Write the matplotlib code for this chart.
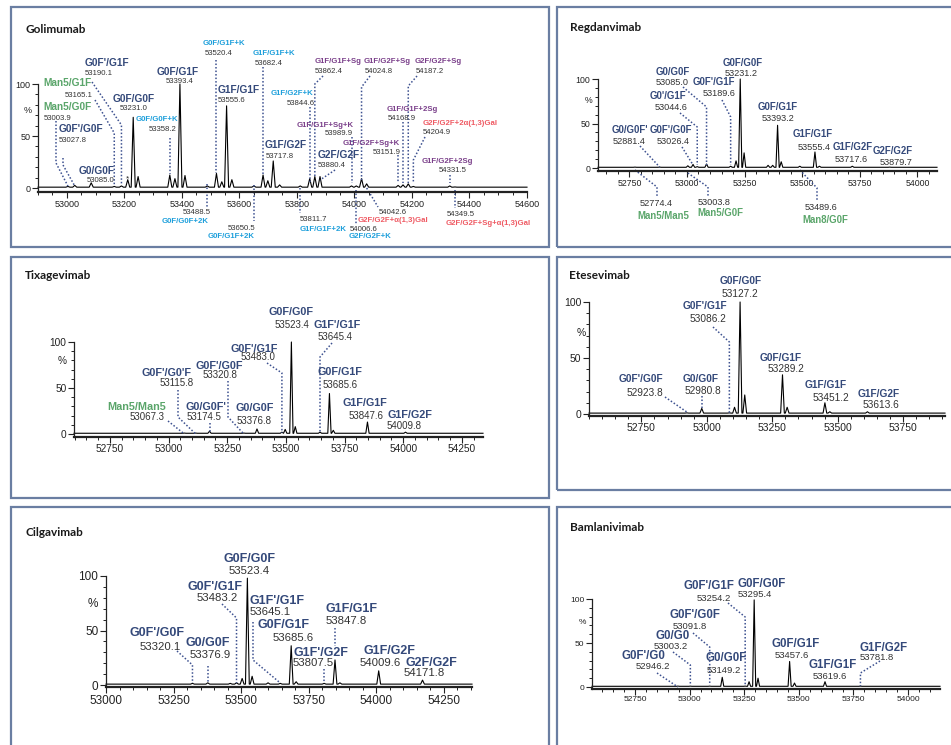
import matplotlib
matplotlib.use("Agg")
import matplotlib.pyplot as plt
from matplotlib.patches import Rectangle
from matplotlib.ticker import MultipleLocator

plt.rcParams["font.family"] = ["Liberation Sans", "DejaVu Sans"]

# ---------------- Golimumab ----------------
goli_peak_mass = [53003.9, 53027.8, 53085.0, 53165.1, 53190.1, 53212.0, 53231.0, 53248.0,
                  53358.2, 53376.0, 53393.4, 53411.0, 53488.5, 53520.4, 53539.0, 53555.6,
                  53574.0, 53650.5, 53682.4, 53699.0, 53717.8, 53740.0, 53811.7, 53844.6,
                  53862.4, 53880.4, 53989.9, 54006.6, 54024.8, 54042.6, 54151.9, 54168.9,
                  54187.2, 54204.9, 54331.5, 54349.5]
goli_peak_int = [1.5, 2.5, 5, 1.5, 2, 8, 68, 11,
                 12.5, 9, 100, 12, 2, 14, 6, 79,
                 8, 2, 12.5, 7, 26, 3, 2, 9,
                 11, 11, 2, 2, 9, 4, 2.5, 3,
                 4, 1.5, 2, 1]
goli_names = ["G0F'/G1F", "Man5/G1F", "Man5/G0F", "G0F'/G0F", "G0/G0F", "G0F/G0F",
              "G0F/G0F+K", "G0F/G1F", "G0F/G1F+K", "G1F/G1F", "G1F/G1F+K", "G1F/G2F+K",
              "G1F/G2F", "G1F/G1F+Sg", "G1F/G2F+Sg", "G2F/G2F+Sg", "G1F/G1F+Sg+K", "G2F/G2F",
              "G1F/G2F+Sg+K", "G1F/G1F+2Sg", "G2F/G2F+2α(1,3)Gal", "G1F/G2F+2Sg",
              "G0F/G0F+2K", "G0F/G1F+2K", "G1F/G1F+2K", "G2F/G2F+K", "G2F/G2F+α(1,3)Gal",
              "G2F/G2F+Sg+α(1,3)Gal"]
goli_masses = ["53190.1", "53165.1", "53003.9", "53027.8", "53085.0", "53231.0",
               "53358.2", "53393.4", "53520.4", "53555.6", "53682.4", "53844.6",
               "53717.8", "53862.4", "54024.8", "54187.2", "53989.9", "53880.4",
               "53151.9", "54168.9", "54204.9", "54331.5",
               "53488.5", "53650.5", "53811.7", "54006.6", "54042.6", "54349.5"]

# ---------------- Regdanvimab ----------------
regd_peak_mass = [52774.4, 52881.4, 53003.8, 53026.4, 53044.6, 53085.0, 53189.6, 53213.0,
                  53231.2, 53248.0, 53352.0, 53372.0, 53393.2, 53409.0, 53489.6, 53555.4,
                  53575.0, 53717.6, 53879.7]
regd_peak_int = [1, 1, 2.5, 4, 1.5, 4.5, 2, 8, 100, 17, 3, 3, 48, 7, 2, 18, 2, 2, 1]
regd_names = ["G0F/G0F", "G0/G0F", "G0F'/G1F", "G0'/G1F", "G0/G0F'", "G0F'/G0F",
              "G0F/G1F", "G1F/G1F", "G1F/G2F", "G2F/G2F", "Man5/Man5", "Man5/G0F", "Man8/G0F"]
regd_masses = ["53231.2", "53085.0", "53189.6", "53044.6", "52881.4", "53026.4",
               "53393.2", "53555.4", "53717.6", "53879.7", "52774.4", "53003.8", "53489.6"]

# ---------------- Tixagevimab ----------------
tixa_peak_mass = [53067.3, 53115.8, 53174.5, 53320.8, 53376.8, 53483.0, 53497.0, 53523.4,
                  53540.0, 53645.4, 53685.6, 53702.0, 53847.6, 54009.8]
tixa_peak_int = [1, 1, 3, 1, 5.5, 2, 5, 100, 8, 2, 44, 4, 13, 2]
tixa_names = ["G0F/G0F", "G1F'/G1F", "G0F/G1F", "G1F/G1F", "G1F/G2F", "G0F'/G1F",
              "G0F'/G0F", "G0F'/G0'F", "Man5/Man5", "G0/G0F'", "G0/G0F"]
tixa_masses = ["53523.4", "53645.4", "53685.6", "53847.6", "54009.8", "53483.0",
               "53320.8", "53115.8", "53067.3", "53174.5", "53376.8"]

# ---------------- Etesevimab ----------------
etes_peak_mass = [52923.8, 52980.8, 53086.2, 53106.0, 53127.2, 53145.0, 53289.2, 53307.0,
                  53451.2, 53470.0, 53613.6]
etes_peak_int = [1, 5, 1, 6, 100, 17, 35, 6, 10, 2, 2]
etes_names = ["G0F/G0F", "G0F'/G1F", "G0F/G1F", "G1F/G1F", "G1F/G2F", "G0F'/G0F", "G0/G0F"]
etes_masses = ["53127.2", "53086.2", "53289.2", "53451.2", "53613.6", "52923.8", "52980.8"]

# ---------------- Cilgavimab ----------------
cilg_peak_mass = [53320.1, 53376.9, 53460.0, 53483.2, 53504.0, 53523.4, 53541.0, 53600.0,
                  53645.1, 53685.6, 53704.0, 53807.5, 53847.8, 53866.0, 54009.6, 54171.8]
cilg_peak_int = [1.5, 2, 1.5, 2, 6, 98, 8, 2, 1.5, 36, 3, 1.5, 23, 2, 13, 4.5]
cilg_names = ["G0F/G0F", "G0F'/G1F", "G1F'/G1F", "G0F/G1F", "G1F'/G2F", "G1F/G1F",
              "G1F/G2F", "G2F/G2F", "G0F'/G0F", "G0/G0F"]
cilg_masses = ["53523.4", "53483.2", "53645.1", "53685.6", "53807.5", "53847.8",
               "54009.6", "54171.8", "53320.1", "53376.9"]

# ---------------- Bamlanivimab ----------------
baml_peak_mass = [52946.2, 53003.2, 53091.8, 53149.2, 53254.2, 53272.0, 53295.4, 53313.0,
                  53457.6, 53480.0, 53619.6, 53781.8]
baml_peak_int = [1, 1, 1, 11, 1, 6, 99, 10, 29, 4.5, 6, 1]
baml_names = ["G0F/G0F", "G0F'/G1F", "G0F'/G0F", "G0/G0", "G0F'/G0", "G0/G0F",
              "G0F/G1F", "G1F/G1F", "G1F/G2F"]
baml_masses = ["53295.4", "53254.2", "53091.8", "53003.2", "52946.2", "53149.2",
               "53457.6", "53619.6", "53781.8"]

# ---------------- styling ----------------
W, H = 951, 745
COLORS = {"n": "#34497a", "g": "#5aa56a", "c": "#1d9fdb", "p": "#7a3f8a", "r": "#ef5a63"}
MASS_C = "#333333"
DOT_C = "#3d5190"
BOX_C = "#6a7ea2"
BASE = 0.8   # baseline level of the trace
HW = 7.0     # half width of a peak, Da

fig = plt.figure(figsize=(W / 100, H / 100), dpi=100)
fig.patch.set_facecolor("white")


def px_to_data(ax, x, y):
    return ax.transData.inverted().transform((x, H - y))


def put_text(ax, x, y, s, size, color, bold=False, ha="left"):
    # y is the centre of the capitals in pixels from the top edge
    dx, dy = px_to_data(ax, x, y + 0.36 * size * 100 / 72)
    ax.text(dx, dy, s, fontsize=size, color=color, fontweight="bold" if bold else "normal",
            ha=ha, va="baseline", clip_on=False)


def put_leader(ax, mass, pts):
    xs, ys = [], []
    for x, y in pts:
        dx, dy = px_to_data(ax, 0 if x is None else x, y)
        xs.append(mass if x is None else dx)
        ys.append(dy)
    ax.plot(xs, ys, color=DOT_C, lw=1.1, ls=(0, (1, 1.3)), clip_on=False)


def draw_panel(p, peak_mass, peak_int, names, masses):
    x0, y0, x1, y1 = p["box"]
    fig.add_artist(Rectangle((x0 / W, 1 - y1 / H), (x1 - x0) / W, (y1 - y0) / H,
                             transform=fig.transFigure, fill=False, ec=BOX_C, lw=1.6))
    tx, ty = p["title_xy"]
    fig.text(tx / W, 1 - (ty + 4) / H, p["title"], family="Lato", weight="bold",
             size=8.5, color="#1a1a1a", va="baseline")

    left, right, y100, yzero, ymin = p["geom"]
    bottom = yzero + (-ymin) * (yzero - y100) / 100
    ax = fig.add_axes([left / W, 1 - bottom / H, (right - left) / W, (bottom - y100) / H])
    ax.set_xlim(*p["xlim"])
    ax.set_ylim(ymin, 100)
    ax.set_facecolor("none")

    xs, ys = [p["xlim"][0]], [BASE]
    for m, h in sorted(zip(peak_mass, peak_int)):
        xs += [m - HW, m, m + HW]
        ys += [BASE, h, BASE]
    xs.append(p["xlim"][1])
    ys.append(BASE)
    ax.plot(xs, ys, color="black", lw=0.8, clip_on=False)

    for s in ("top", "right"):
        ax.spines[s].set_visible(False)
    ax.spines["left"].set_linewidth(0.9)
    ax.spines["bottom"].set_linewidth(1.6)
    for s in ("left", "bottom"):
        ax.spines[s].set_color("#222222")
    ax.set_yticks([0, 50, 100])
    ax.yaxis.set_minor_locator(MultipleLocator(10))
    ax.xaxis.set_major_locator(MultipleLocator(p["major"]))
    ax.xaxis.set_minor_locator(MultipleLocator(50))
    ax.tick_params(which="major", length=4, width=0.8, labelsize=p["fs_tick"], pad=1.5,
                   colors="#222222")
    ax.tick_params(which="minor", length=2, width=0.7, colors="#222222")
    put_text(ax, p["pct_xy"][0], p["pct_xy"][1], "%", p["fs_tick"], "#222222", ha="center")

    for name, mass, (ckey, nxy, mxy, leader) in zip(names, masses, p["labels"]):
        size = p["fs_small"] if ckey in ("c", "p", "r") else p["fs_name"]
        msize = p["fs_mass"]
        put_text(ax, nxy[0], nxy[1], name, size, COLORS[ckey], bold=True)
        put_text(ax, mxy[0], mxy[1], mass, msize, MASS_C)
        if leader:
            put_leader(ax, float(mass), leader)
    return ax


N = None
golimumab = dict(
    title="Golimumab", title_xy=(25, 29), box=(11, 7, 549, 247),
    geom=(38, 527, 84, 188, -4), xlim=(52900, 54600), major=200, fs_tick=6.5,
    pct_xy=(28, 110), fs_name=7.3, fs_small=5.6, fs_mass=5.6,
    labels=[
        ("n", (85, 62), (85, 72), [(92, 82), (N, 125), (N, 185)]),
        ("g", (43, 82), (65, 94), [(95, 100), (N, 133), (N, 186)]),
        ("g", (43, 106), (44, 117), [(56, 121), (56, 163), (N, 186)]),
        ("n", (59, 128), (59, 139), [(63, 158), (63, 165), (N, 186)]),
        ("n", (79, 170), (87, 179), None),
        ("n", (113, 98), (120, 107), None),
        ("c", (136, 118), (149, 128), [(N, 138), (N, 174)]),
        ("n", (157, 71), (166, 80), None),
        ("c", (203, 42), (205, 52), [(N, 60), (N, 173)]),
        ("n", (218, 89), (218, 99), None),
        ("c", (253, 52), (255, 62), [(N, 67), (N, 175)]),
        ("c", (271, 92), (287, 102), [(N, 107), (N, 182)]),
        ("n", (265, 144), (266, 155), None),
        ("p", (315, 60), (315, 70), [(323, 76), (N, 84), (N, 178)]),
        ("p", (364, 60), (365, 70), [(370, 76), (N, 87), (N, 182)]),
        ("p", (415, 60), (416, 70), [(417, 76), (N, 86), (N, 183)]),
        ("p", (297, 124), (325, 132), [(N, 137), (N, 183)]),
        ("n", (318, 154), (318, 164), [(335, 170), (N, 180)]),
        ("p", (343, 142), (373, 151), [(398, 155), (398, 183)]),
        ("p", (387, 108), (388, 117), [(N, 122), (N, 183)]),
        ("r", (423, 122), (423, 131), [(425, 137), (N, 160), (N, 182)]),
        ("p", (422, 160), (439, 169), [(N, 175), (N, 183)]),
        ("c", (162, 220), (183, 211), [(N, 184), (N, 207)]),
        ("c", (208, 235), (228, 227), [(N, 185), (N, 221)]),
        ("c", (300, 228), (300, 218), [(N, 188), (N, 213)]),
        ("c", (349, 235), (350, 228), [(N, 190), (N, 224)]),
        ("r", (358, 219), (379, 211), [(N, 188), (378, 207)]),
        ("r", (446, 222), (447, 213), [(N, 190), (N, 208)]),
    ])

regdanvimab = dict(
    title="Regdanvimab", title_xy=(570, 27), box=(557, 7, 960, 247),
    geom=(598, 937, 79, 168, -3.5), xlim=(52614, 54085), major=250, fs_tick=6.3,
    pct_xy=(589, 100), fs_name=6.9, fs_small=6.9, fs_mass=6.6,
    labels=[
        ("n", (723, 63), (725, 73), None),
        ("n", (656, 72), (656, 82), [(683, 87), (N, 107), (N, 165)]),
        ("n", (693, 82), (703, 93), [(722, 100), (N, 117), (N, 165)]),
        ("n", (650, 96), (655, 107), [(680, 113), (N, 127), (N, 165)]),
        ("n", (612, 130), (613, 141), [(640, 146), (N, 167)]),
        ("n", (650, 130), (657, 141), [(682, 147), (N, 165)]),
        ("n", (758, 107), (762, 118), None),
        ("n", (793, 134), (798, 147), None),
        ("n", (833, 147), (835, 159), None),
        ("n", (873, 151), (880, 162), None),
        ("g", (637, 216), (640, 203), [(N, 170), (657, 187), (657, 197)]),
        ("g", (697, 213), (698, 202), [(N, 173), (708, 187), (708, 197)]),
        ("g", (802, 220), (805, 207), [(N, 170), (817, 188), (817, 200)]),
    ])

tixagevimab = dict(
    title="Tixagevimab", title_xy=(25, 275), box=(11, 257, 549, 498),
    geom=(74, 483, 342, 434, -3), xlim=(52597, 54340), major=250, fs_tick=7.3,
    pct_xy=(62, 360), fs_name=7.8, fs_small=7.8, fs_mass=7.0,
    labels=[
        ("n", (268, 311), (275, 324), None),
        ("n", (314, 324), (318, 337), [(332, 343), (N, 357), (N, 433)]),
        ("n", (318, 371), (323, 385), None),
        ("n", (342, 402), (349, 415), None),
        ("n", (387, 414), (387, 425), None),
        ("n", (230, 348), (241, 357), [(267, 363), (N, 373), (N, 433)]),
        ("n", (196, 365), (203, 375), [(228, 381), (228, 417), (N, 434)]),
        ("n", (142, 372), (160, 382), [(178, 390), (178, 417), (N, 434)]),
        ("g", (107, 406), (130, 417), [(168, 421), (N, 434)]),
        ("n", (185, 406), (187, 417), [(N, 423), (N, 433)]),
        ("n", (235, 407), (237, 421), None),
    ])

etesevimab = dict(
    title="Etesevimab", title_xy=(569, 275), box=(557, 257, 960, 490),
    geom=(589, 945, 302, 414, -1.5), xlim=(52550, 53910), major=250, fs_tick=7.5,
    pct_xy=(581, 332), fs_name=7.3, fs_small=7.3, fs_mass=7.3,
    labels=[
        ("n", (720, 280), (722, 293), None),
        ("n", (683, 305), (690, 318), [(713, 327), (N, 342), (N, 413)]),
        ("n", (760, 357), (768, 368), None),
        ("n", (805, 384), (813, 397), None),
        ("n", (858, 393), (863, 404), None),
        ("n", (619, 378), (627, 392), [(665, 397), (N, 412)]),
        ("n", (683, 378), (685, 390), [(N, 396), (N, 408)]),
    ])

cilgavimab = dict(
    title="Cilgavimab", title_xy=(25, 532), box=(11, 507, 549, 760),
    geom=(106, 472, 576, 685, -2), xlim=(53000, 54355), major=250, fs_tick=8.5,
    pct_xy=(93, 603), fs_name=9.0, fs_small=9.0, fs_mass=8.2,
    labels=[
        ("n", (223, 557), (229, 570), None),
        ("n", (188, 585), (197, 597), [(222, 604), (N, 618), (N, 683)]),
        ("n", (250, 600), (250, 611), [(253, 622), (253, 660), (N, 683)]),
        ("n", (258, 623), (273, 637), None),
        ("n", (293, 651), (293, 662), [(N, 669), (N, 682)]),
        ("n", (325, 607), (326, 620), [(N, 628), (N, 646)]),
        ("n", (363, 649), (360, 662), None),
        ("n", (405, 661), (404, 672), None),
        ("n", (130, 632), (140, 646), [(177, 651), (N, 665), (N, 683)]),
        ("n", (186, 641), (190, 654), [(N, 666), (N, 682)]),
    ])

bamlanivimab = dict(
    title="Bamlanivimab", title_xy=(570, 527), box=(557, 507, 960, 760),
    geom=(592, 940, 599, 687, -2), xlim=(52553, 54146), major=250, fs_tick=6.0,
    pct_xy=(582, 621), fs_name=8.3, fs_small=8.3, fs_mass=6.8,
    labels=[
        ("n", (737, 583), (738, 594), None),
        ("n", (683, 585), (697, 598), [(728, 603), (N, 617), (N, 685)]),
        ("n", (669, 614), (673, 626), [(693, 633), (N, 647), (N, 685)]),
        ("n", (655, 635), (654, 646), [(673, 652), (N, 665), (N, 685)]),
        ("n", (621, 655), (636, 666), [(657, 673), (N, 687)]),
        ("n", (706, 657), (707, 670), None),
        ("n", (771, 643), (775, 655), None),
        ("n", (808, 664), (813, 676), None),
        ("n", (859, 647), (860, 657), [(880, 661), (N, 673), (N, 686)]),
    ])

ax_goli = draw_panel(golimumab, goli_peak_mass, goli_peak_int, goli_names, goli_masses)
put_text(ax_goli, 126, 177, "*", 6, "#222222")
draw_panel(regdanvimab, regd_peak_mass, regd_peak_int, regd_names, regd_masses)
draw_panel(tixagevimab, tixa_peak_mass, tixa_peak_int, tixa_names, tixa_masses)
draw_panel(etesevimab, etes_peak_mass, etes_peak_int, etes_names, etes_masses)
draw_panel(cilgavimab, cilg_peak_mass, cilg_peak_int, cilg_names, cilg_masses)
draw_panel(bamlanivimab, baml_peak_mass, baml_peak_int, baml_names, baml_masses)

fig.savefig("out.png", dpi=100, facecolor="white")
